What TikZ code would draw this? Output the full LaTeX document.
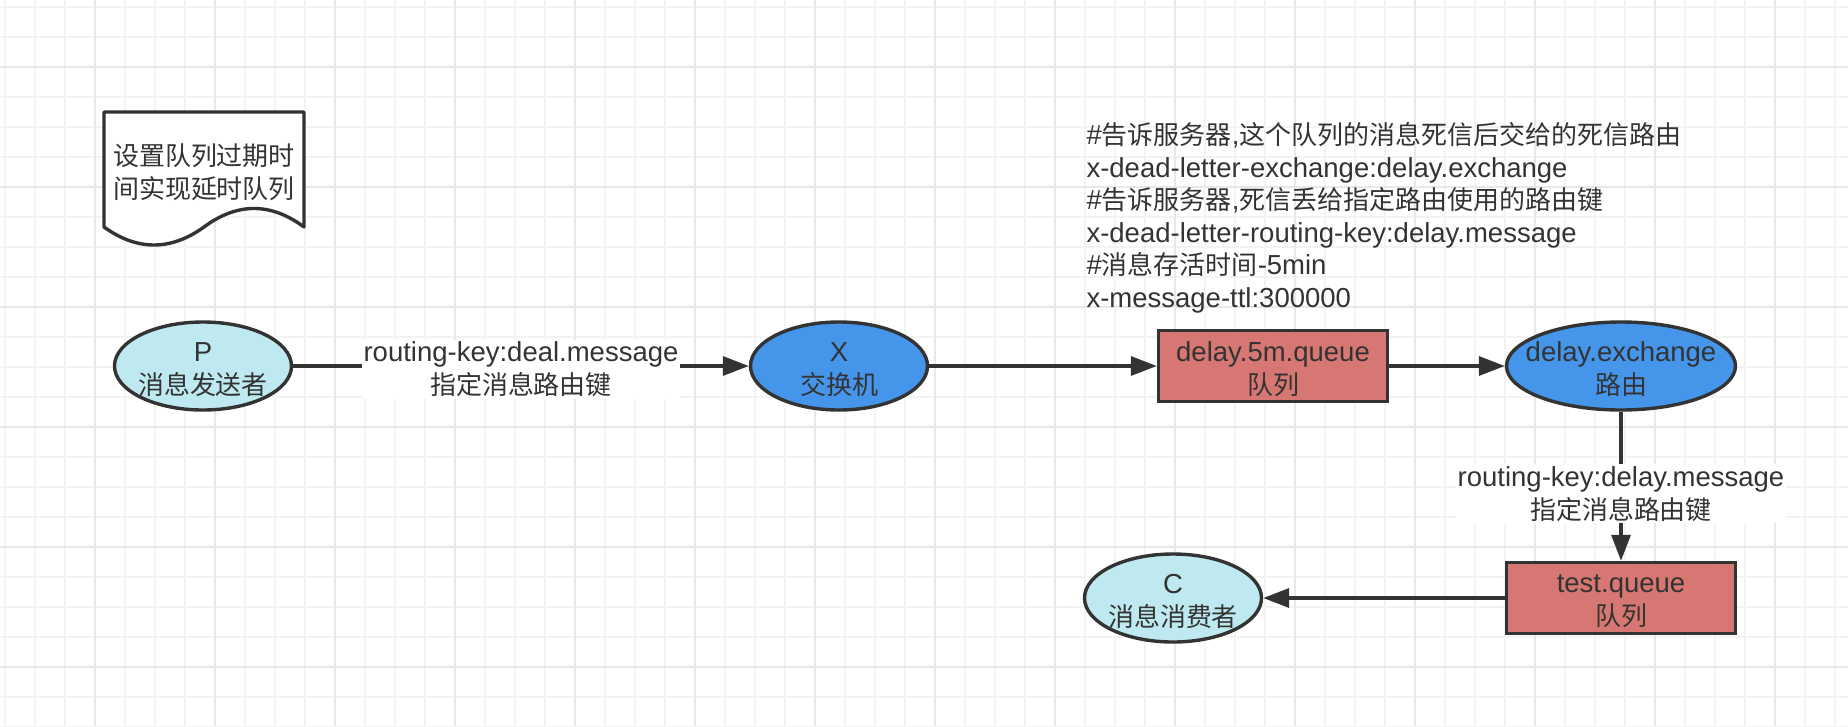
\documentclass[tikz,border=0pt]{standalone}
\usepackage{fontspec}
\setmainfont{Liberation Sans}
\newfontfamily\cjk{Noto Sans CJK SC}[Scale=0.945]
\usetikzlibrary{shapes.geometric,arrows.meta}
\definecolor{ink}{HTML}{333333}
\definecolor{lightc}{HTML}{BEE9F0}
\definecolor{bluec}{HTML}{4596EA}
\definecolor{redc}{HTML}{D77773}
\definecolor{gminor}{HTML}{F3F3F3}
\definecolor{gmajor}{HTML}{E8E8E8}
\begin{document}
\begin{tikzpicture}[x=1pt,y=-1pt,
  every node/.style={text=ink, font=\fontsize{27.5}{33}\selectfont, align=center},
  txtdown/.style={yshift=-3.5pt},
  ell/.style={ellipse, draw=ink, line width=3.4pt, minimum width=177pt, minimum height=88pt, inner sep=0pt},
  lightell/.style={ell, fill=lightc},
  blueell/.style={ell, fill=bluec},
  queuebox/.style={rectangle, draw=ink, line width=3.4pt, minimum width=229pt, minimum height=71pt, inner sep=0pt, fill=redc},
  conn/.style={draw=ink, line width=3.4pt, -{Triangle[length=26pt,width=19pt]}},
  lbl/.style={fill=white, inner sep=2pt, txtdown},
  gridminor/.style={draw=gminor, line width=1.4pt},
  gridmajor/.style={draw=gmajor, line width=1.8pt},
  docshape/.style={draw=ink, fill=white, line width=3.4pt, line join=round}]
\useasboundingbox (0,0) rectangle (1848,726);
\fill[white] (0,0) rectangle (1848,726);
% grid
\foreach \i in {0,...,61} \draw[gridminor] ({5+30*\i},0) -- ({5+30*\i},726);
\foreach \j in {0,...,24} \draw[gridminor] (0,{7+30*\j}) -- (1848,{7+30*\j});
\foreach \i in {0,...,15} \draw[gridmajor] ({95+120*\i},0) -- ({95+120*\i},726);
\foreach \j in {0,...,5} \draw[gridmajor] (0,{67+120*\j}) -- (1848,{67+120*\j});
% document shape
\draw[docshape] (104,112) -- (304,112) -- (304,227)
  .. controls (270.7,202.3) and (237.3,202.3) .. (204,227)
  .. controls (170.7,251) and (137.3,251) .. (104,227) -- cycle;
\node (doc) at (204,172) {\cjk 设置队列过期时\\\cjk 间实现延时队列};
% nodes
\node[lightell, label={[name=Ptxt,txtdown]center:{P\\\cjk 消息发送者}}] (P) at (203,366) {};
\node[blueell, label={[name=Xtxt,txtdown]center:{X\\\cjk 交换机}}] (X) at (839,366) {};
\node[queuebox, label={[name=Qtxt,txtdown]center:{delay.5m.queue\\\cjk 队列}}] (Q) at (1273,366) {};
\node[blueell, minimum width=229pt, label={[name=Etxt,txtdown]center:{delay.exchange\\\cjk 路由}}] (E) at (1621,366) {};
\node[queuebox, label={[name=Ttxt,txtdown]center:{test.queue\\\cjk 队列}}] (T) at (1621,598) {};
\node[lightell, label={[name=Ctxt,txtdown]center:{C\\\cjk 消息消费者}}] (C) at (1173,598) {};
% annotation
\node[anchor=west, align=left, font=\fontsize{27.5}{32.5}\selectfont] (note) at (1083,218) {\#{\cjk 告诉服务器},{\cjk 这个队列的消息死信后交给的死信路由}\\
x-dead-letter-exchange:delay.exchange\\
\#{\cjk 告诉服务器},{\cjk 死信丢给指定路由使用的路由键}\\
x-dead-letter-routing-key:delay.message\\
\#{\cjk 消息存活时间}-5min\\
x-message-ttl:300000};
% connectors
\draw[conn] (P) -- node[lbl] (l1) {routing-key:deal.message\\\cjk 指定消息路由键} (X);
\draw[conn] (X) -- (Q);
\draw[conn] (Q) -- (E);
\draw[conn] (E) -- node[lbl, yshift=-4pt] (l2) {routing-key:delay.message\\\cjk 指定消息路由键} (T);
\draw[conn] (T) -- (C);
\end{tikzpicture}
\end{document}
